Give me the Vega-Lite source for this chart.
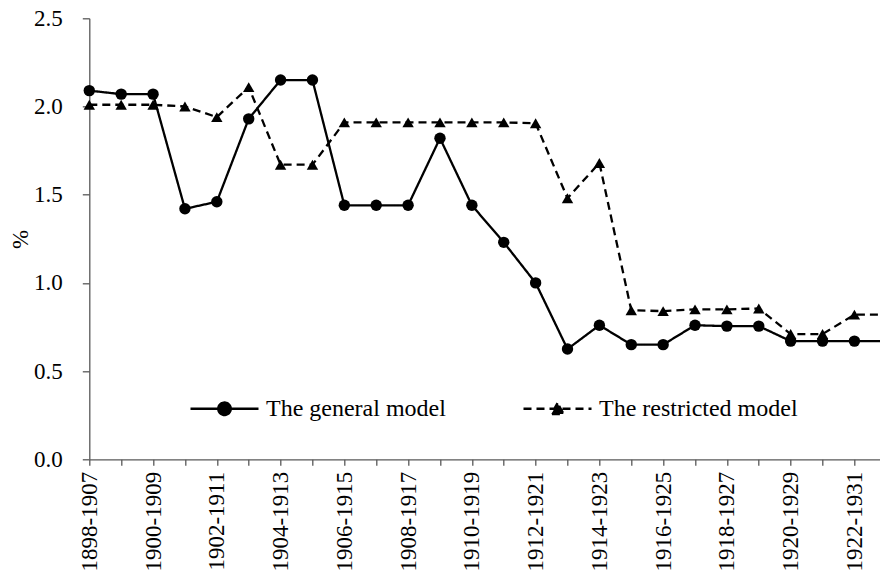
{
  "$schema": "https://vega.github.io/schema/vega-lite/v6.json",
  "width": 790.7,
  "height": 441,
  "autosize": "none",
  "padding": {"left": 89.3, "top": 18.3, "right": 0, "bottom": 121.7},
  "background": "white",
  "config": {"view": {"stroke": null}, "font": "Liberation Serif"},
  "datasets": {
    "rows": [
      {"period": "1898-1907", "series": "The general model", "value": 2.09},
      {"period": "1899-1908", "series": "The general model", "value": 2.07},
      {"period": "1900-1909", "series": "The general model", "value": 2.07},
      {"period": "1901-1910", "series": "The general model", "value": 1.42},
      {"period": "1902-1911", "series": "The general model", "value": 1.46},
      {"period": "1903-1912", "series": "The general model", "value": 1.93},
      {"period": "1904-1913", "series": "The general model", "value": 2.15},
      {"period": "1905-1914", "series": "The general model", "value": 2.15},
      {"period": "1906-1915", "series": "The general model", "value": 1.44},
      {"period": "1907-1916", "series": "The general model", "value": 1.44},
      {"period": "1908-1917", "series": "The general model", "value": 1.44},
      {"period": "1909-1918", "series": "The general model", "value": 1.82},
      {"period": "1910-1919", "series": "The general model", "value": 1.44},
      {"period": "1911-1920", "series": "The general model", "value": 1.23},
      {"period": "1912-1921", "series": "The general model", "value": 1.0},
      {"period": "1913-1922", "series": "The general model", "value": 0.625},
      {"period": "1914-1923", "series": "The general model", "value": 0.76},
      {"period": "1915-1924", "series": "The general model", "value": 0.65},
      {"period": "1916-1925", "series": "The general model", "value": 0.65},
      {"period": "1917-1926", "series": "The general model", "value": 0.76},
      {"period": "1918-1927", "series": "The general model", "value": 0.755},
      {"period": "1919-1928", "series": "The general model", "value": 0.755},
      {"period": "1920-1929", "series": "The general model", "value": 0.67},
      {"period": "1921-1930", "series": "The general model", "value": 0.67},
      {"period": "1922-1931", "series": "The general model", "value": 0.67},
      {"period": "1923-1932", "series": "The general model", "value": 0.67},
      {"period": "1898-1907", "series": "The restricted model", "value": 2.01},
      {"period": "1899-1908", "series": "The restricted model", "value": 2.01},
      {"period": "1900-1909", "series": "The restricted model", "value": 2.01},
      {"period": "1901-1910", "series": "The restricted model", "value": 2.0},
      {"period": "1902-1911", "series": "The restricted model", "value": 1.94},
      {"period": "1903-1912", "series": "The restricted model", "value": 2.11},
      {"period": "1904-1913", "series": "The restricted model", "value": 1.67},
      {"period": "1905-1914", "series": "The restricted model", "value": 1.67},
      {"period": "1906-1915", "series": "The restricted model", "value": 1.91},
      {"period": "1907-1916", "series": "The restricted model", "value": 1.91},
      {"period": "1908-1917", "series": "The restricted model", "value": 1.91},
      {"period": "1909-1918", "series": "The restricted model", "value": 1.91},
      {"period": "1910-1919", "series": "The restricted model", "value": 1.91},
      {"period": "1911-1920", "series": "The restricted model", "value": 1.91},
      {"period": "1912-1921", "series": "The restricted model", "value": 1.905},
      {"period": "1913-1922", "series": "The restricted model", "value": 1.48},
      {"period": "1914-1923", "series": "The restricted model", "value": 1.68},
      {"period": "1915-1924", "series": "The restricted model", "value": 0.845},
      {"period": "1916-1925", "series": "The restricted model", "value": 0.84},
      {"period": "1917-1926", "series": "The restricted model", "value": 0.85},
      {"period": "1918-1927", "series": "The restricted model", "value": 0.85},
      {"period": "1919-1928", "series": "The restricted model", "value": 0.855},
      {"period": "1920-1929", "series": "The restricted model", "value": 0.71},
      {"period": "1921-1930", "series": "The restricted model", "value": 0.71},
      {"period": "1922-1931", "series": "The restricted model", "value": 0.82},
      {"period": "1923-1932", "series": "The restricted model", "value": 0.82}
    ]
  },
  "data": {"name": "rows"},
  "encoding": {
    "x": {
      "field": "period",
      "type": "ordinal",
      "sort": null,
      "scale": {"type": "point", "padding": 0, "range": [0, 797]},
      "axis": {
        "title": null,
        "labelAngle": 270,
        "labelAlign": "right",
        "labelBaseline": "middle",
        "labelExpr": "toNumber(slice(datum.label, 0, 4)) % 2 === 0 ? datum.label : ''",
        "labelOverlap": false,
        "labelFont": "Liberation Serif",
        "labelFontSize": 23,
        "labelColor": "black",
        "labelPadding": 6,
        "tickSize": 6,
        "tickColor": "#595959",
        "domainColor": "#595959",
        "domainWidth": 1.3,
        "tickWidth": 1.3,
        "grid": false
      }
    },
    "y": {
      "field": "value",
      "type": "quantitative",
      "scale": {"domain": [0, 2.5], "nice": false},
      "axis": {
        "values": [0, 0.5, 1, 1.5, 2, 2.5],
        "format": ".1f",
        "title": "%",
        "titleFont": "Liberation Serif",
        "titleFontSize": 23,
        "titleFontWeight": "normal",
        "titleColor": "black",
        "titlePadding": 1,
        "labelFont": "Liberation Serif",
        "labelFontSize": 23,
        "labelColor": "black",
        "labelPadding": 20,
        "tickSize": 7,
        "tickColor": "#595959",
        "domainColor": "#595959",
        "domainWidth": 1.3,
        "tickWidth": 1.3,
        "grid": false
      }
    }
  },
  "layer": [
    {
      "mark": {"type": "line", "color": "black", "strokeWidth": 2.3},
      "encoding": {
        "strokeDash": {
          "field": "series",
          "type": "nominal",
          "scale": {"range": [[1, 0], [8, 5]]},
          "legend": {
            "title": null,
            "orient": "none",
            "direction": "horizontal",
            "legendX": 99.7,
            "legendY": 354.7,
            "padding": 0,
            "symbolSize": 4624,
            "symbolStrokeWidth": 2.3,
            "symbolStrokeColor": "black",
            "symbolFillColor": "black",
            "labelOffset": 6,
            "columnPadding": 72,
            "labelFont": "Liberation Serif",
            "labelFontSize": 24,
            "labelColor": "black",
            "labelLimit": 400,
            "encode": {
              "symbols": {
                "update": {
                  "shape": {"signal": "datum.value === 'The general model' ? 'M-1,0L1,0M-0.185,0A0.185,0.185,0,1,1,0.185,0A0.185,0.185,0,1,1,-0.185,0Z' : 'M-1,0L1,0M0,-0.165L-0.18,0.155L0.18,0.155Z'"},
                  "fill": {"value": "black"},
                  "stroke": {"value": "black"},
                  "opacity": {"value": 1}
                }
              }
            }
          }
        }
      }
    },
    {
      "mark": {"type": "point", "filled": true, "color": "black", "opacity": 1, "size": 130},
      "encoding": {
        "shape": {
          "field": "series",
          "type": "nominal",
          "scale": {"range": ["circle", "triangle-up"]},
          "legend": null
        }
      }
    }
  ]
}
